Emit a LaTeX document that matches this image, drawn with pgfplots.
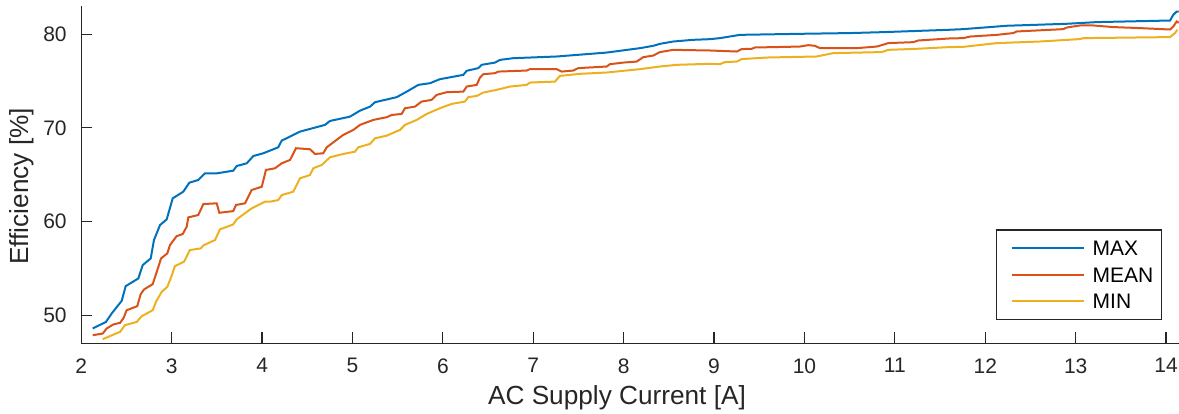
\documentclass[border=0pt]{standalone}
\usepackage{fontspec}
\setmainfont{Liberation Sans}
\usepackage{pgfplots}
\pgfplotsset{compat=1.18}

\definecolor{mblue}{rgb}{0,0.447,0.741}
\definecolor{mred}{rgb}{0.850,0.325,0.098}
\definecolor{myellow}{rgb}{0.929,0.694,0.125}
\definecolor{axgray}{rgb}{0.15,0.15,0.15}

\begin{document}
\begin{tikzpicture}
\begin{axis}[
    scale only axis,
    width=548.85pt, height=168.65pt,
    xmin=2, xmax=14.143,
    ymin=47, ymax=83,
    axis x line=bottom, axis y line=left,
    axis line style={-, line width=0.6pt, color=axgray},
    xtick={2,3,...,14}, ytick={50,60,70,80},
    tick align=inside, major tick length=5.5pt,
    tick style={axgray, line width=0.6pt},
    /pgf/number format/assume math mode=true,
    ticklabel style={font=\fontsize{10.5}{12}\selectfont, text=axgray},
    yticklabel style={xshift=-3.8pt},
    xticklabel style={yshift=-4pt},
    xlabel={AC Supply Current [A]},
    ylabel={Efficiency [\%]},
    label style={font=\fontsize{13.1}{15}\selectfont, text=axgray},
    xlabel style={at={(axis description cs:0.488,0)}, anchor=base, yshift=-30.85pt},
    ylabel style={at={(axis description cs:-0.04828,0.4649)}, anchor=base},
    legend cell align=left,
    legend style={at={(rel axis cs:0.9845,0.0691)}, anchor=south east,
        draw=axgray, line width=0.6pt, fill=white,
        font=\fontsize{10.5}{12}\selectfont,
        inner xsep=0pt, inner ysep=2.7pt, row sep=0pt,
        nodes={inner xsep=4pt, inner ysep=0pt, text height=10.31pt, text depth=2.79pt}},
    legend image code/.code={\path (0pt,0pt); \draw[#1] (7pt,0pt) -- (43pt,0pt);},
]

% MAX
\addplot[mblue, line width=1pt] coordinates {
(2.126,48.58) (2.273,49.28) (2.336,50.18) (2.447,51.53) (2.491,53.10) (2.631,53.92)
(2.679,55.34) (2.768,56.06) (2.804,58.02) (2.871,59.62) (2.945,60.23) (3.011,62.47)
(3.128,63.18) (3.195,64.14) (3.294,64.43) (3.368,65.14) (3.498,65.14) (3.681,65.42)
(3.719,65.92) (3.830,66.21) (3.903,66.99) (4.013,67.28) (4.179,67.92) (4.217,68.63)
(4.419,69.59) (4.696,70.31) (4.751,70.73) (4.972,71.19) (5.083,71.83) (5.194,72.26)
(5.249,72.73) (5.489,73.27) (5.600,73.86) (5.728,74.58) (5.857,74.76) (5.968,75.19)
(6.226,75.65) (6.263,76.08) (6.392,76.37) (6.429,76.72) (6.576,76.96) (6.632,77.25)
(6.779,77.43) (7.259,77.61) (7.812,78.03) (8.180,78.50) (8.327,78.75) (8.401,78.96)
(8.549,79.21) (8.770,79.39) (8.955,79.46) (9.065,79.57) (9.286,79.92) (9.950,80.03)
(10.503,80.11) (10.872,80.21) (11.597,80.46) (11.757,80.53) (12.237,80.89) (12.900,81.10)
(13.232,81.28) (14.044,81.45) (14.080,82.06) (14.117,82.41) (14.140,82.40)
};
\addlegendentry{MAX}

% MEAN
\addplot[mred, line width=1pt] coordinates {
(2.126,47.86) (2.237,48.04) (2.281,48.58) (2.354,49.01) (2.428,49.18) (2.465,49.65)
(2.502,50.53) (2.619,50.96) (2.657,52.24) (2.694,52.75) (2.790,53.31) (2.841,54.81)
(2.882,56.06) (2.951,56.59) (2.981,57.48) (3.055,58.44) (3.122,58.66) (3.166,59.44)
(3.184,60.44) (3.294,60.69) (3.350,61.86) (3.498,61.94) (3.527,60.93) (3.681,61.11)
(3.711,61.76) (3.811,61.94) (3.885,63.36) (3.996,63.71) (4.043,65.50) (4.143,65.68)
(4.217,66.21) (4.309,66.57) (4.375,67.82) (4.530,67.71) (4.585,67.21) (4.677,67.28)
(4.715,67.92) (4.898,69.24) (5.009,69.77) (5.083,70.31) (5.230,70.84) (5.378,71.13)
(5.434,71.37) (5.544,71.48) (5.581,72.09) (5.691,72.26) (5.765,72.80) (5.876,72.98)
(5.931,73.51) (6.042,73.80) (6.226,73.86) (6.263,74.40) (6.374,74.58) (6.410,75.35)
(6.447,75.72) (6.576,75.83) (6.613,76.00) (6.927,76.11) (6.963,76.26) (7.259,76.26)
(7.314,76.00) (7.442,76.11) (7.498,76.37) (7.812,76.54) (7.848,76.79) (7.996,76.96)
(8.144,77.07) (8.217,77.54) (8.327,77.71) (8.401,78.08) (8.549,78.32) (8.955,78.25)
(9.250,78.14) (9.305,78.40) (9.416,78.43) (9.452,78.57) (9.950,78.67) (10.042,78.82)
(10.116,78.75) (10.171,78.50) (10.577,78.50) (10.798,78.67) (10.854,78.82) (10.927,79.04)
(11.203,79.14) (11.259,79.32) (11.597,79.53) (11.757,79.57) (11.833,79.74) (12.128,79.92)
(12.310,80.11) (12.347,80.28) (12.863,80.53) (12.900,80.70) (13.048,80.92) (13.195,80.92)
(13.416,80.75) (13.711,80.64) (14.044,80.49) (14.080,80.81) (14.117,81.35) (14.140,81.20)
};
\addlegendentry{MEAN}

% MIN
\addplot[myellow, line width=1pt] coordinates {
(2.237,47.44) (2.428,48.22) (2.483,48.93) (2.613,49.28) (2.668,49.89) (2.790,50.53)
(2.826,51.42) (2.889,52.49) (2.951,53.02) (2.989,53.92) (3.036,55.24) (3.136,55.70)
(3.173,56.41) (3.202,56.95) (3.321,57.13) (3.357,57.48) (3.479,58.02) (3.534,59.16)
(3.681,59.69) (3.719,60.23) (3.885,61.40) (4.032,62.11) (4.087,62.11) (4.179,62.29)
(4.217,62.82) (4.345,63.18) (4.419,64.61) (4.530,64.96) (4.566,65.68) (4.659,66.03)
(4.751,66.85) (4.898,67.21) (5.028,67.45) (5.064,67.92) (5.194,68.28) (5.249,68.88)
(5.378,69.16) (5.525,69.77) (5.581,70.31) (5.710,70.84) (5.821,71.48) (5.968,72.09)
(6.097,72.55) (6.244,72.80) (6.281,73.27) (6.374,73.40) (6.447,73.76) (6.595,74.05)
(6.742,74.40) (6.927,74.58) (6.963,74.83) (7.240,74.93) (7.295,75.54) (7.516,75.76)
(7.812,75.90) (8.180,76.26) (8.401,76.54) (8.586,76.72) (8.955,76.83) (9.065,76.79)
(9.120,77.01) (9.250,77.07) (9.305,77.33) (9.582,77.50) (10.135,77.61) (10.319,77.97)
(10.854,78.08) (10.927,78.32) (11.241,78.43) (11.597,78.61) (11.757,78.64) (12.128,79.04)
(12.607,79.21) (13.048,79.47) (13.085,79.57) (14.044,79.68) (14.099,80.11) (14.125,80.46)
};
\addlegendentry{MIN}

\end{axis}
\pgfresetboundingbox
\path ([xshift=-40.65pt,yshift=-35.35pt]current axis.south west) rectangle ([yshift=3pt]current axis.north east);
\end{tikzpicture}
\end{document}
